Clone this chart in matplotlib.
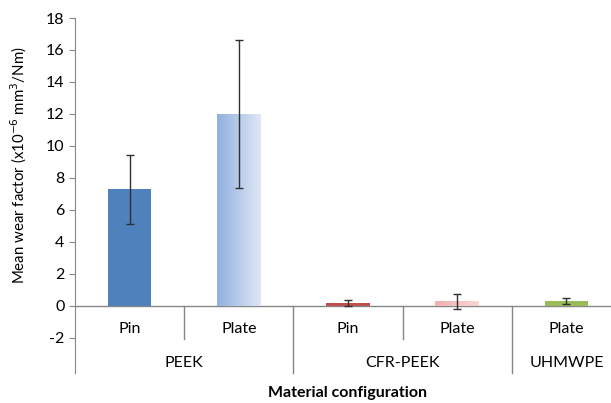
import numpy as np
import matplotlib
matplotlib.use("Agg")
import matplotlib.pyplot as plt
from matplotlib.colors import LinearSegmentedColormap

plt.rcParams['font.family'] = ['Lato', 'DejaVu Sans']
plt.rcParams['mathtext.fontset'] = 'custom'
plt.rcParams['mathtext.rm'] = 'Liberation Sans Narrow'

# data
materials = ["PEEK", "CFR-PEEK", "UHMWPE"]
group_sizes = [2, 2, 1]
configs = ["Pin", "Plate", "Pin", "Plate", "Plate"]
wear = [7.3, 12.0, 0.2, 0.3, 0.3]
err = [2.15, 4.6, 0.18, 0.48, 0.18]
# (left, right) colour of each bar; same colour = plain fill
bar_colors = [("#4f81bd", "#4f81bd"), ("#92b0e0", "#dfe7f5"),
              ("#c0504d", "#c0504d"), ("#f0b0b0", "#f8d6d6"),
              ("#9bbb59", "#9bbb59")]

fs = 11.5

fig = plt.figure(figsize=(6.11, 4.03), dpi=100)
ax = fig.add_axes([75/611, 1-372.7/403, 546/611, (372.7-18)/403])

x = np.arange(len(configs))
ymin = -4.17

bars = ax.bar(x, wear, width=0.4, color=[c[0] for c in bar_colors], zorder=2)
for b, (c1, c2) in zip(bars, bar_colors):
    if c1 != c2:
        cmap = LinearSegmentedColormap.from_list("g", [c1, c2])
        bx, by = b.get_x(), b.get_y()
        im = ax.imshow(np.linspace(0, 1, 100).reshape(1, -1), cmap=cmap, aspect="auto",
                       extent=[bx, bx+b.get_width(), by, by+b.get_height()], zorder=2)
        im.set_clip_path(b)
        b.set_facecolor("none")
ax.set_xlim(-0.5, len(configs)-0.5)
ax.set_ylim(ymin, 18)

ax.errorbar(x, wear, yerr=err, fmt="none", ecolor="#303030", elinewidth=1,
            capsize=3, capthick=1, zorder=3)

# axes styling
for s in ["top", "right", "bottom"]:
    ax.spines[s].set_visible(False)
ax.spines["left"].set_color("#868686")
ax.axhline(0, color="#868686", lw=1, zorder=1)
ax.set_yticks(np.arange(-2, 19, 2))
ax.set_yticklabels([str(v) for v in range(-2, 19, 2)], fontsize=fs)
ax.tick_params(axis="y", colors="#868686", length=4, labelcolor="black", direction="out")
ax.set_xticks([])

# category labels
for i, c in enumerate(configs):
    ax.text(i, -1.44, c, ha="center", va="center", fontsize=fs)
pos = 0
for m, n in zip(materials, group_sizes):
    ax.text(pos + (n-1)/2, -3.56, m, ha="center", va="center", fontsize=fs)
    pos += n
    if pos < len(configs):
        ax.plot([pos-0.5, pos-0.5], [0, ymin], color="#868686", lw=1, clip_on=False)
pos = 0
for n in group_sizes:
    for k in range(1, n):
        ax.plot([pos+k-0.5, pos+k-0.5], [0, -2.06], color="#868686", lw=1)
    pos += n

ax.set_ylabel("Mean wear factor (x10$^{\\mathrm{-6}}$ mm$^{\\mathrm{3}}$/Nm)", fontsize=10.8,
              family=['Liberation Sans Narrow', 'Lato'])
ax.yaxis.set_label_coords(-(75-29)/546, (372.7-165)/354.7)
fig.text(348/611, 1-393/403, "Material configuration", ha="center", va="center",
         fontsize=fs, fontweight="bold")

fig.savefig("out.png", dpi=100)
